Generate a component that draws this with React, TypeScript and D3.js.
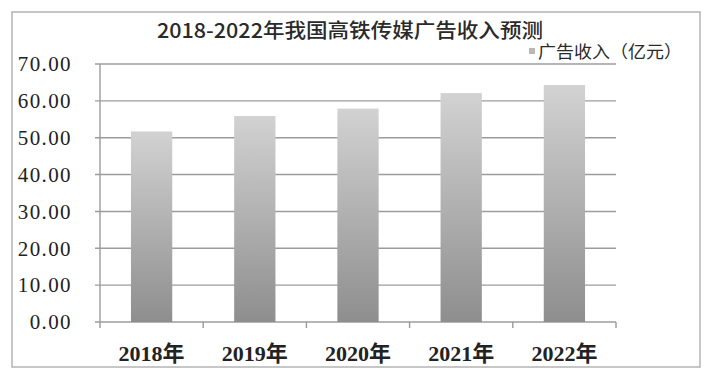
import React from "react";
import * as d3 from "d3";

const years = ["2018年", "2019年", "2020年", "2021年", "2022年"];
const revenue = [51.7, 55.9, 57.9, 62.1, 64.3];
const yTicks = [0, 10, 20, 30, 40, 50, 60, 70];
const title = "2018-2022年我国高铁传媒广告收入预测";
const seriesName = "广告收入（亿元）";

const W = 709;
const H = 384;
const frame = { left: 12, top: 12, right: 700, bottom: 367 };
const plot = { left: 100, right: 616, top: 64, bottom: 322 };

export default function App() {
  const band = d3.scaleBand<string>().domain(years).range([plot.left, plot.right]);
  const y = d3.scaleLinear().domain([0, 70]).range([plot.bottom, plot.top]);
  const barWidth = band.bandwidth() * 0.4;

  const edges = years.map((c) => band(c) as number).concat([plot.right]);
  const serif = "'Liberation Serif', 'DejaVu Serif', 'Noto Sans CJK SC', serif";

  return (
    <svg
      width={W}
      height={H}
      style={{ position: "absolute", left: 0, top: 0, background: "#fff" }}
    >
      <defs>
        <linearGradient id="barFill" x1="0" y1="0" x2="0" y2="1">
          <stop offset="0%" stopColor="#d2d2d2" />
          <stop offset="100%" stopColor="#8e8e8e" />
        </linearGradient>
      </defs>

      <rect
        x={frame.left}
        y={frame.top}
        width={frame.right - frame.left}
        height={frame.bottom - frame.top}
        fill="#fff"
        stroke="#b4b4b4"
        strokeWidth={1.5}
      />

      {/* horizontal gridlines with small left ticks */}
      {yTicks.map((t) => (
        <line
          key={"g" + t}
          x1={plot.left - 5}
          x2={plot.right}
          y1={y(t)}
          y2={y(t)}
          stroke="#9c9c9c"
          strokeWidth={1.4}
        />
      ))}

      {/* value axis */}
      <line x1={plot.left} x2={plot.left} y1={plot.top} y2={plot.bottom} stroke="#9a9a9a" strokeWidth={1.4} />

      {/* category ticks */}
      {edges.map((e, i) => (
        <line key={"t" + i} x1={e} x2={e} y1={plot.bottom} y2={plot.bottom + 6} stroke="#9a9a9a" strokeWidth={1.4} />
      ))}

      {/* bars */}
      {years.map((c, i) => (
        <rect
          key={c}
          x={band(c)! + (band.bandwidth() - barWidth) / 2}
          y={y(revenue[i])}
          width={barWidth}
          height={y(0) - y(revenue[i])}
          fill="url(#barFill)"
        />
      ))}

      {/* value labels */}
      {yTicks.map((t) => (
        <text
          key={"l" + t}
          x={72}
          y={y(t)}
          dy="0.35em"
          textAnchor="end"
          fontFamily={serif}
          fontSize={21}
          letterSpacing={1.4}
          fill="#222"
        >
          {t.toFixed(2)}
        </text>
      ))}

      {/* category labels */}
      {years.map((c) => (
        <text
          key={"c" + c}
          x={band(c)! + band.bandwidth() / 2}
          y={361}
          textAnchor="middle"
          fontFamily={serif}
          fontWeight="bold"
          fontSize={22}
          fill="#222"
        >
          {c}
        </text>
      ))}

      {/* title */}
      <text
        x={350}
        y={38}
        textAnchor="middle"
        fontFamily="'Noto Sans CJK SC', sans-serif"
        fontWeight={500}
        fontSize={20}
        fill="#2a2a2a"
        textLength={386}
        lengthAdjust="spacingAndGlyphs"
      >
        {title}
      </text>

      {/* legend */}
      <rect x={529} y={48} width={6} height={6} fill="#b8b8b8" />
      <text
        x={538}
        y={58}
        fontFamily="'Noto Sans CJK SC', sans-serif"
        fontSize={17}
        fill="#2a2a2a"
        textLength={144}
        lengthAdjust="spacingAndGlyphs"
      >
        {seriesName}
      </text>
    </svg>
  );
}
